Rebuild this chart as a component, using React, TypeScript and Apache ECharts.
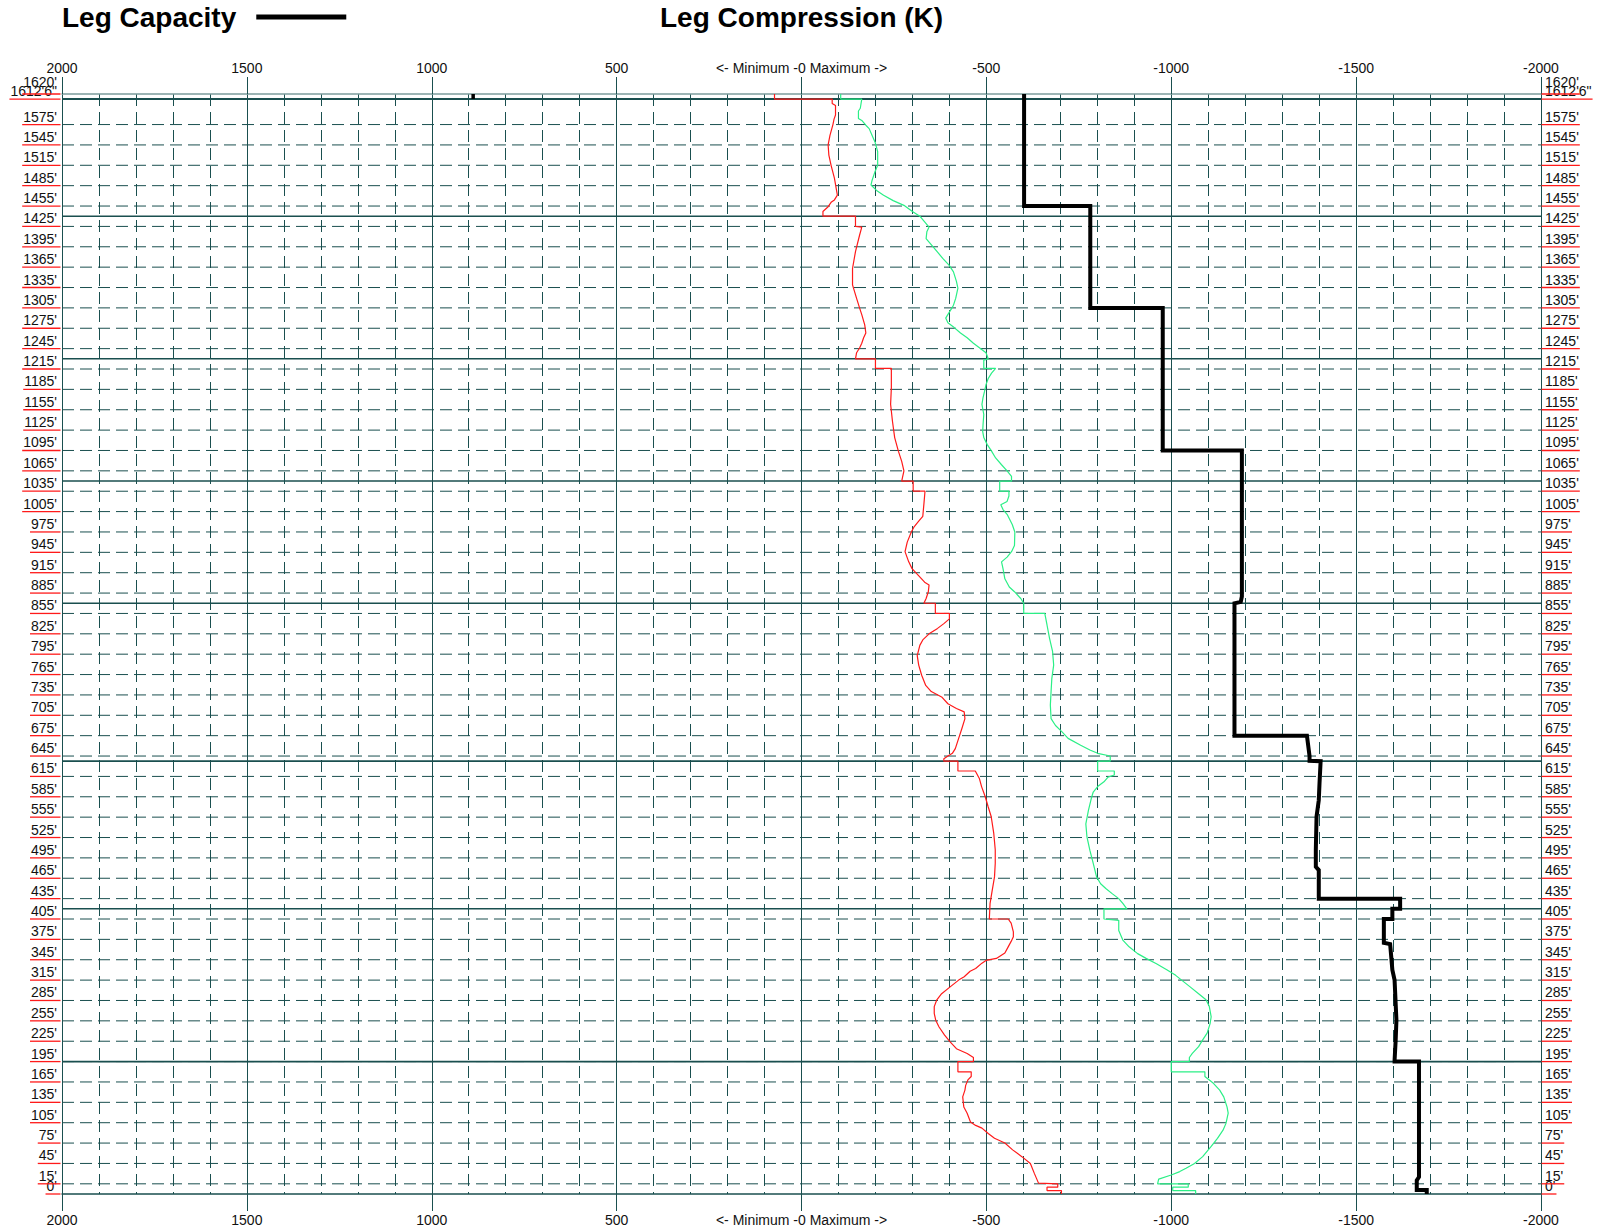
import React, { useEffect, useRef } from "react";
import * as echarts from "echarts";

// ---------- data ----------
const depthTicks = [0, 15, 45, 75, 105, 135, 165, 195, 225, 255, 285, 315, 345, 375, 405, 435, 465, 495, 525, 555, 585, 615, 645, 675, 705, 735, 765, 795, 825, 855, 885, 915, 945, 975, 1005, 1035, 1065, 1095, 1125, 1155, 1185, 1215, 1245, 1275, 1305, 1335, 1365, 1395, 1425, 1455, 1485, 1515, 1545, 1575];
const topDepths = [1612.5, 1620];
const topDepthTexts = ["1612'6\"", "1620'"];
const braceDepths = [195, 420, 637.5, 870, 1050, 1230, 1440];
const topBraceDepth = 1612.5;
const zeroLabel = "<- Minimum -0 Maximum ->";

const redDepth = [1620, 1612.5, 1612.5, 1606, 1603, 1589, 1583, 1575, 1559, 1545, 1530, 1515, 1496, 1471, 1464, 1461, 1454, 1447, 1440, 1440, 1425, 1424, 1412, 1388, 1363, 1339, 1319, 1305, 1295, 1280, 1268, 1261, 1253, 1246, 1239, 1230, 1230, 1216, 1216, 1187, 1163, 1138, 1114, 1094, 1079, 1065, 1050, 1050, 1035, 1035, 1016, 998, 991, 983, 975, 960, 946, 931, 921, 911, 901, 897, 887, 877, 870, 870, 855, 855, 847, 840, 833, 825, 816, 808, 793, 779, 764, 749, 740, 732, 722, 715, 710, 700, 686, 671, 656, 649, 645, 641, 637.5, 637.5, 623, 623, 612, 600, 585, 570, 556, 531, 507, 487, 467, 448, 428, 405, 405, 399, 386, 379, 372, 364, 355, 347, 344, 340, 332, 328, 320, 315, 305, 295, 286, 276, 266, 256, 246, 234, 224, 214, 207, 201, 195, 195, 180, 180, 173, 168, 160, 153, 143, 128, 119, 106, 101, 97, 89, 82, 75, 65, 55, 45, 30, 16, 15, 15, 10, 10, 5, 5, 0];
const redLoad = [73, 73, -83, -83, -92, -92, -88, -85, -77, -72, -74, -80, -89, -97, -89, -81, -72, -58, -58, -146, -146, -163, -157, -146, -138, -138, -149, -157, -163, -171, -174, -168, -163, -157, -149, -146, -200, -200, -243, -243, -241, -246, -252, -262, -271, -277, -271, -302, -302, -334, -331, -328, -317, -305, -297, -286, -280, -290, -299, -316, -333, -345, -343, -337, -331, -362, -362, -400, -400, -385, -368, -345, -328, -320, -313, -317, -325, -336, -351, -379, -396, -419, -440, -442, -434, -425, -416, -408, -396, -385, -385, -423, -423, -470, -481, -487, -497, -505, -513, -520, -524, -524, -522, -516, -510, -508, -559, -567, -573, -573, -567, -559, -550, -527, -499, -488, -471, -456, -440, -425, -402, -379, -366, -359, -359, -363, -372, -387, -402, -419, -448, -465, -465, -423, -423, -459, -459, -450, -444, -442, -436, -439, -448, -457, -471, -488, -505, -522, -550, -571, -596, -619, -630, -641, -641, -693, -693, -664, -664, -703, -703];

const greenDepth = [1620, 1612.5, 1612.5, 1599, 1595, 1584, 1581, 1574, 1569, 1559, 1549, 1535, 1515, 1506, 1493, 1486, 1478, 1471, 1463, 1456, 1447, 1440, 1424, 1417, 1407, 1402, 1395, 1387, 1378, 1368, 1358, 1344, 1334, 1319, 1309, 1305, 1298, 1290, 1283, 1276, 1268, 1261, 1253, 1246, 1239, 1230, 1228, 1216, 1216, 1209, 1201, 1192, 1182, 1173, 1163, 1148, 1133, 1123, 1114, 1104, 1094, 1084, 1074, 1065, 1057, 1050, 1050, 1035, 1035, 1028, 1020, 1015, 1008, 1001, 986, 975, 955, 946, 938, 931, 921, 906, 894, 887, 877, 870, 855, 855, 838, 818, 799, 779, 759, 740, 720, 700, 690, 681, 671, 661, 654, 649, 645, 637.5, 637.5, 623, 623, 617, 614, 607, 600, 592, 583, 565, 545, 526, 506, 487, 467, 457, 450, 442, 435, 428, 420, 420, 405, 403, 388, 374, 364, 354, 347, 339, 330, 322, 315, 305, 295, 286, 276, 261, 251, 237, 227, 217, 207, 201, 195, 195, 180, 180, 173, 163, 153, 143, 128, 119, 104, 94, 82, 70, 55, 45, 38, 33, 28, 22, 15, 15, 10, 10, 5, 5, 0];
const greenLoad = [-106, -106, -163, -159, -154, -154, -163, -174, -183, -191, -199, -206, -206, -199, -191, -188, -203, -222, -248, -277, -300, -320, -345, -339, -337, -345, -356, -368, -382, -399, -411, -419, -423, -417, -411, -407, -399, -390, -396, -413, -430, -448, -465, -482, -499, -505, -493, -493, -525, -514, -505, -499, -495, -491, -488, -493, -491, -490, -493, -502, -514, -525, -541, -556, -568, -568, -536, -536, -561, -561, -556, -539, -545, -556, -570, -577, -576, -568, -556, -541, -545, -550, -562, -576, -593, -601, -601, -658, -664, -671, -679, -682, -677, -675, -673, -675, -687, -704, -721, -755, -780, -801, -835, -835, -801, -801, -846, -846, -829, -818, -801, -789, -784, -776, -769, -772, -780, -789, -798, -809, -823, -841, -858, -869, -880, -818, -818, -858, -858, -869, -886, -909, -932, -960, -989, -1012, -1028, -1051, -1074, -1094, -1103, -1108, -1105, -1097, -1085, -1074, -1057, -1049, -1049, -1000, -1000, -1091, -1091, -1114, -1131, -1142, -1151, -1154, -1148, -1140, -1125, -1108, -1085, -1063, -1040, -1023, -1000, -966, -963, -1046, -1046, -1004, -1004, -1066, -1066];

const capDepth = [1620, 1455, 1455, 1305, 1305, 1095, 1095, 880, 872, 870, 675, 675, 645, 638, 637.5, 605, 580, 556, 507, 482, 477, 435, 435, 420, 420, 405, 405, 370, 368, 330, 315, 256, 227, 197, 195, 195, 25, 20, 6, 6, 0];
const capLoad = [-602, -602, -781, -781, -977, -977, -1191, -1191, -1188, -1171, -1171, -1367, -1374, -1374, -1404, -1401, -1399, -1393, -1391, -1391, -1399, -1399, -1619, -1619, -1598, -1598, -1575, -1575, -1592, -1598, -1604, -1609, -1607, -1604, -1604, -1670, -1670, -1664, -1664, -1691, -1691];
const capStubDepth = [1620, 1612.5];
const capStubLoad = [888, 888];

// ---------- styles ----------
const FONT = "'Liberation Sans', Arial, Helvetica, sans-serif";
const LABEL_FONT = "14px 'Liberation Sans', Arial, sans-serif";
const GRID_COLOR = "#1a4f4f";
const LIGHT_GRID = "#7c9c9c";

let measureCtx: CanvasRenderingContext2D | null = null;
function textWidth(s: string): number {
  if (!measureCtx) measureCtx = document.createElement("canvas").getContext("2d");
  if (!measureCtx) return s.length * 7.5;
  measureCtx.font = LABEL_FONT;
  return measureCtx.measureText(s).width;
}

const labelDepths = [...depthTicks, ...topDepths];
const labelTexts = [...depthTicks.map((d) => `${d}'`), ...topDepthTexts];

function buildOption(): any {
  const xCommon = {
    type: "value",
    min: -2000,
    max: 2000,
    inverse: true,
  };
  const hLineSeries = (name: string, depths: number[], style: any, z: number) => ({
    name,
    type: "custom",
    coordinateSystem: "cartesian2d",
    xAxisIndex: 0,
    yAxisIndex: 0,
    silent: true,
    clip: false,
    z,
    encode: { x: 0, y: 1 },
    data: depths.map((d) => [0, d]),
    renderItem: (params: any, api: any) => {
      const d = api.value(1);
      const p1 = api.coord([2000, d]);
      const p2 = api.coord([-2000, d]);
      return {
        type: "line",
        shape: { x1: p1[0], y1: p1[1], x2: p2[0], y2: p2[1] },
        style: { stroke: style.color, lineWidth: style.width, lineDash: style.dash || null, fill: null },
      };
    },
  });

  return {
    animation: false,
    backgroundColor: "#ffffff",
    textStyle: { fontFamily: FONT },
    legend: {
      data: ["Leg Capacity"],
      left: 62,
      top: 3,
      padding: 0,
      align: "right",
      icon: "rect",
      itemWidth: 90,
      itemHeight: 5,
      selectedMode: false,
      textStyle: { fontSize: 28, fontWeight: "bold", fontFamily: FONT, color: "#000", padding: [0, 15, 0, 0] },
    },
    title: {
      text: "Leg Compression (K)",
      left: 660,
      top: 3,
      padding: 0,
      textStyle: { fontSize: 28, fontWeight: "bold", fontFamily: FONT, color: "#000" },
    },
    grid: { left: 62, top: 94, width: 1479, height: 1100, containLabel: false },
    xAxis: [
      {
        ...xCommon,
        position: "bottom",
        interval: 500,
        axisLine: { show: true, onZero: false, lineStyle: { color: GRID_COLOR, width: 1.5 } },
        axisTick: { show: true, length: 17, lineStyle: { color: GRID_COLOR, width: 1 } },
        axisLabel: {
          show: true,
          margin: 19,
          color: "#111",
          fontSize: 14,
          fontFamily: FONT,
          formatter: (v: number) => (v === 0 ? zeroLabel : String(v)),
        },
        splitLine: { show: true, lineStyle: { color: GRID_COLOR, width: 1, type: "solid" } },
      },
      {
        ...xCommon,
        position: "top",
        interval: 500,
        axisLine: { show: true, onZero: false, lineStyle: { color: LIGHT_GRID, width: 1.5 } },
        axisTick: { show: true, length: 17, lineStyle: { color: GRID_COLOR, width: 1 } },
        axisLabel: {
          show: true,
          margin: 19,
          color: "#111",
          fontSize: 14,
          fontFamily: FONT,
          formatter: (v: number) => (v === 0 ? zeroLabel : String(v)),
        },
        splitLine: { show: false },
      },
      {
        ...xCommon,
        position: "bottom",
        interval: 100,
        axisLine: { show: false },
        axisTick: { show: false },
        axisLabel: { show: false },
        splitLine: { show: true, lineStyle: { color: GRID_COLOR, width: 1, type: [12, 6] } },
      },
    ],
    yAxis: {
      type: "value",
      min: 0,
      max: 1620,
      show: false,
    },
    series: [
      hLineSeries("dashedDepth", depthTicks.filter((d) => d > 0), { color: GRID_COLOR, width: 1, dash: [12, 6] }, 1),
      hLineSeries("braces", braceDepths, { color: GRID_COLOR, width: 1.6 }, 1),
      hLineSeries("topBrace", [topBraceDepth], { color: GRID_COLOR, width: 2 }, 1),
      {
        name: "depthLabels",
        type: "custom",
        coordinateSystem: "cartesian2d",
        xAxisIndex: 0,
        yAxisIndex: 0,
        silent: true,
        clip: false,
        z: 5,
        encode: { x: 0, y: 1 },
        data: labelDepths.map((d) => [0, d]),
        renderItem: (params: any, api: any) => {
          const d = api.value(1);
          const pl = api.coord([2000, d]);
          const pr = api.coord([-2000, d]);
          const y = pl[1];
          const txt = labelTexts[params.dataIndex];
          const w = textWidth(txt);
          const off = txt === "1620'" ? -4.5 : 0;
          const xl = pl[0];
          const xr = pr[0];
          return {
            type: "group",
            children: [
              {
                type: "line",
                shape: { x1: xl - 5 - w - 1, y1: y, x2: xl - 1.5, y2: y },
                style: { stroke: "#ff1a1a", lineWidth: 1.3 },
              },
              {
                type: "line",
                shape: { x1: xr + 0.5, y1: y, x2: xr + 4 + w + 1, y2: y },
                style: { stroke: "#ff1a1a", lineWidth: 1.3 },
              },
              {
                type: "text",
                x: xl - 5,
                y: y - 1 + off,
                style: { text: txt, align: "right", verticalAlign: "bottom", font: LABEL_FONT, fill: "#111" },
              },
              {
                type: "text",
                x: xr + 4,
                y: y - 1 + off,
                style: { text: txt, align: "left", verticalAlign: "bottom", font: LABEL_FONT, fill: "#111" },
              },
            ],
          };
        },
      },
      {
        name: "Minimum",
        type: "line",
        xAxisIndex: 0,
        yAxisIndex: 0,
        z: 3,
        symbol: "none",
        silent: true,
        color: "#ff1a1a",
        lineStyle: { color: "#ff1a1a", width: 1.2 },
        data: redDepth.map((d, i) => [redLoad[i], d]),
      },
      {
        name: "Maximum",
        type: "line",
        xAxisIndex: 0,
        yAxisIndex: 0,
        z: 3,
        symbol: "none",
        silent: true,
        color: "#2bef86",
        lineStyle: { color: "#2bef86", width: 1.2 },
        data: greenDepth.map((d, i) => [greenLoad[i], d]),
      },
      {
        name: "Leg Capacity",
        type: "line",
        xAxisIndex: 0,
        yAxisIndex: 0,
        z: 4,
        symbol: "none",
        silent: true,
        color: "#000",
        lineStyle: { color: "#000", width: 4, join: "miter" },
        data: capDepth.map((d, i) => [capLoad[i], d]),
      },
      {
        name: "Leg Capacity",
        type: "line",
        xAxisIndex: 0,
        yAxisIndex: 0,
        z: 4,
        symbol: "none",
        silent: true,
        color: "#000",
        lineStyle: { color: "#000", width: 3.5 },
        data: capStubDepth.map((d, i) => [capStubLoad[i], d]),
      },
    ],
  };
}

export default function App() {
  const ref = useRef<HTMLDivElement>(null);
  useEffect(() => {
    if (!ref.current) return;
    const chart = echarts.init(ref.current, undefined, { renderer: "svg" });
    chart.setOption(buildOption());
    return () => chart.dispose();
  }, []);
  return (
    <div
      ref={ref}
      style={{ position: "absolute", left: 0, top: 0, width: 1601, height: 1231, background: "#fff" }}
    />
  );
}
